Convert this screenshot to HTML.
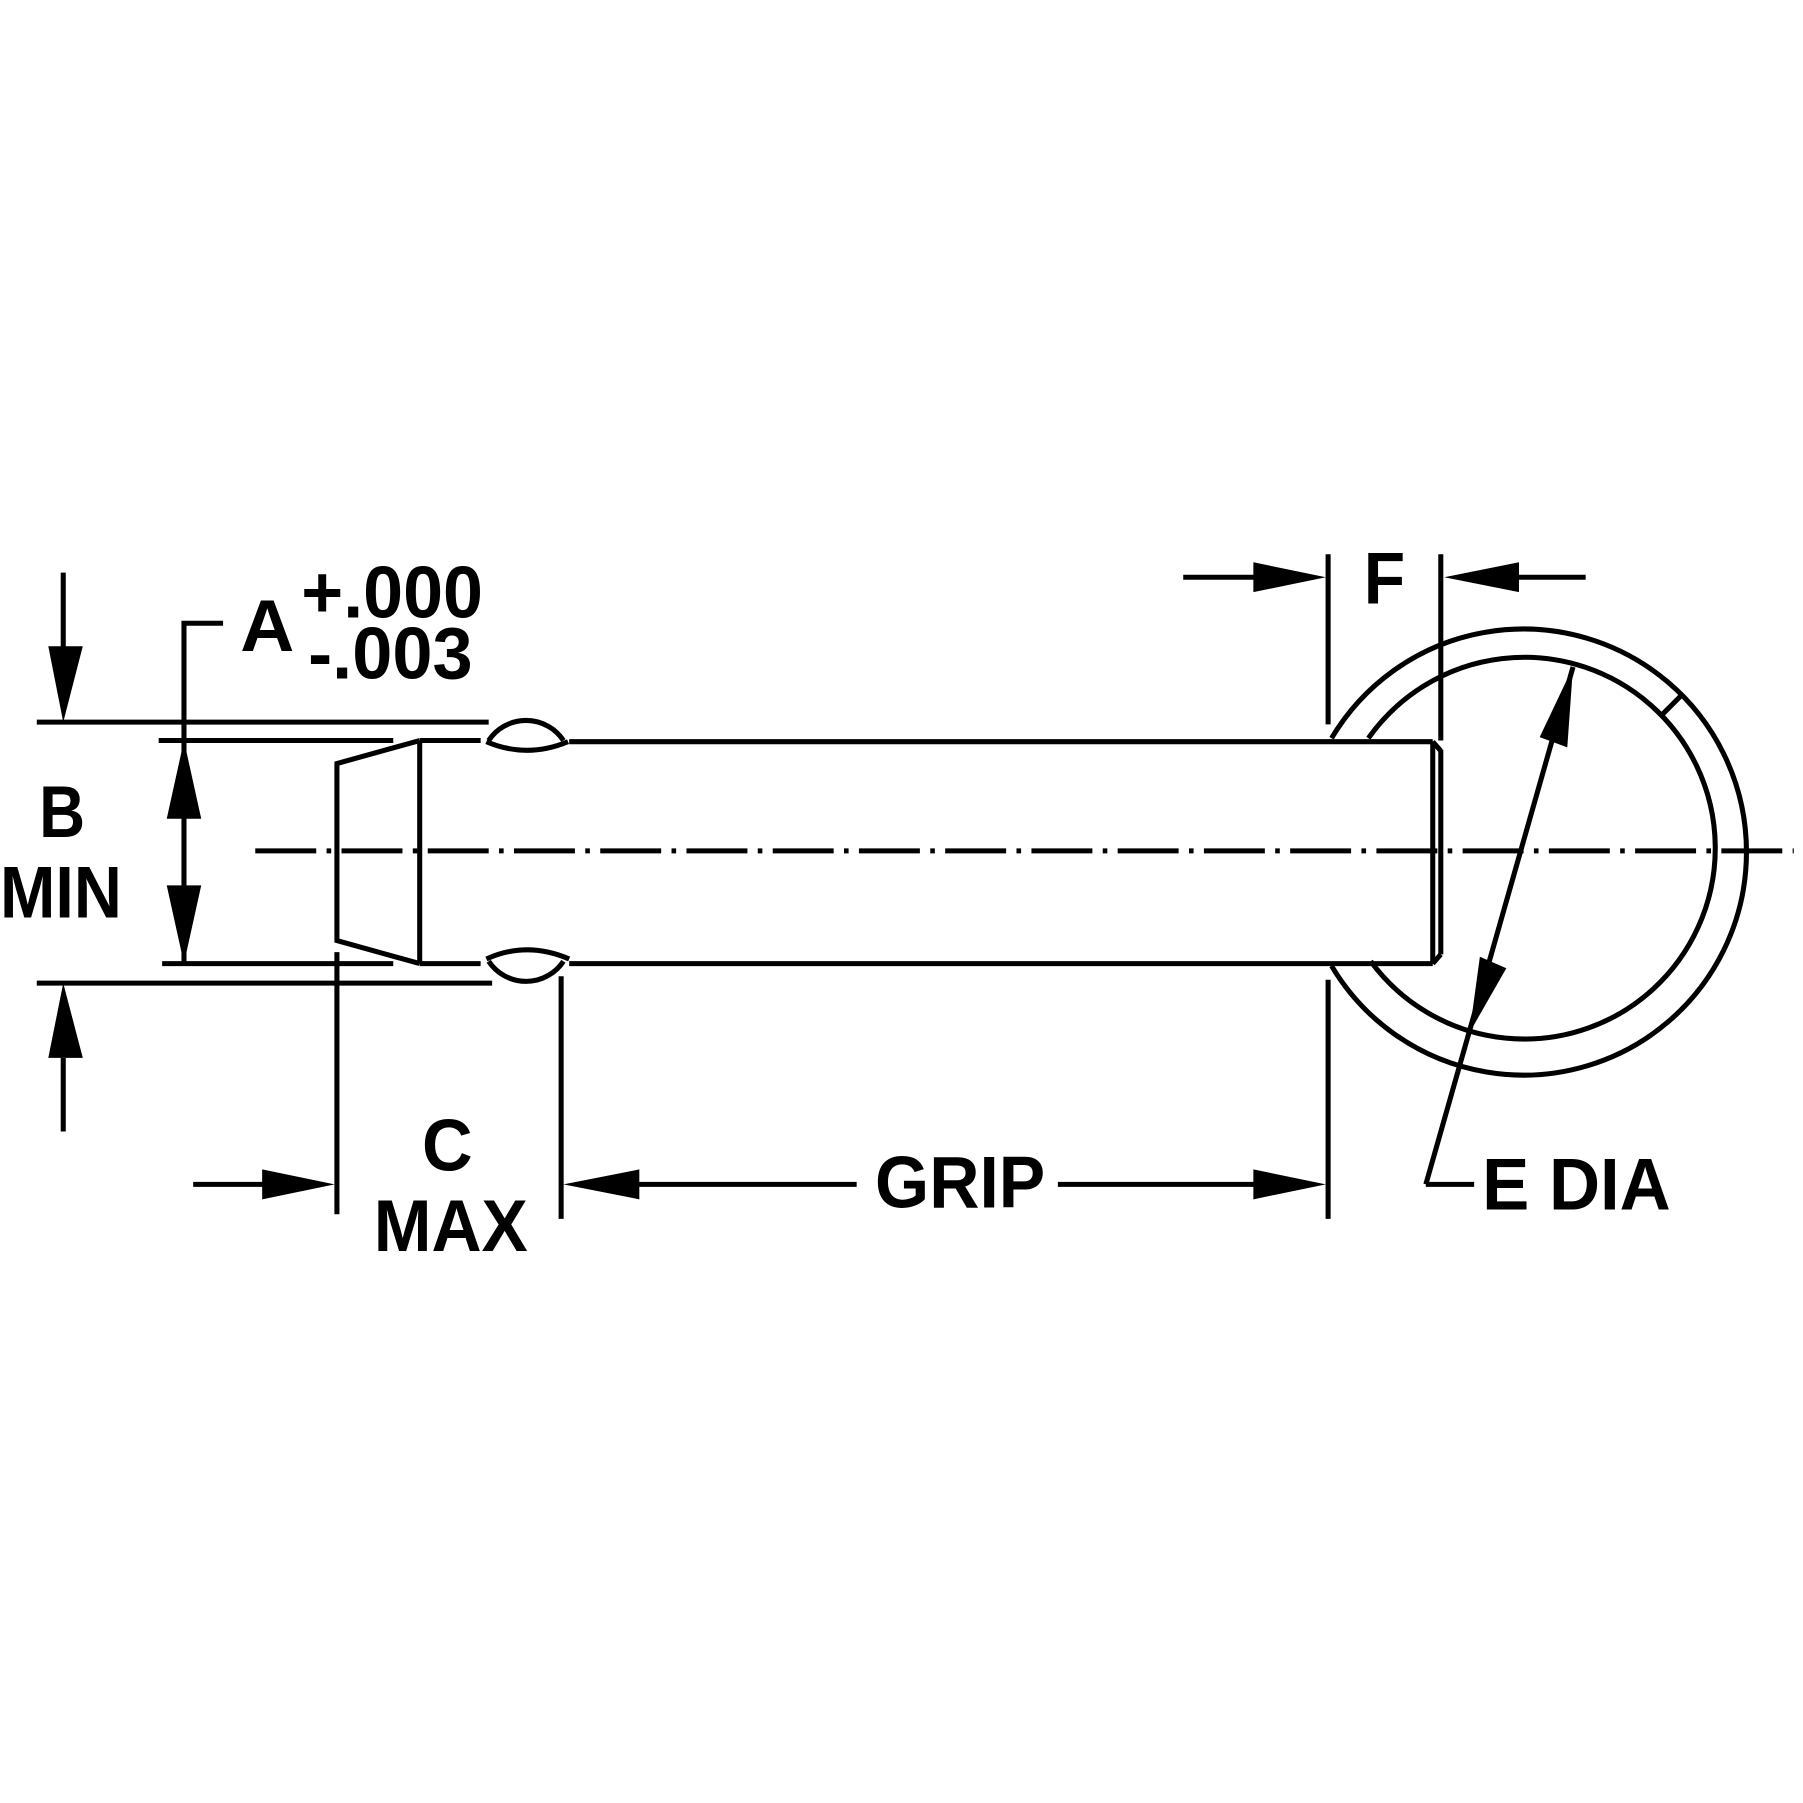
<!DOCTYPE html>
<html><head><style>html,body{margin:0;padding:0;background:#fff}svg{display:block}</style></head>
<body>
<svg width="1803" height="1803" viewBox="0 0 1568 1568" xmlns="http://www.w3.org/2000/svg">
<g stroke="#000" stroke-width="4.4" fill="none">
<line x1="55" y1="498" x2="55" y2="565"/>
<line x1="32" y1="628" x2="425" y2="628"/>
<line x1="138" y1="644" x2="342" y2="644"/>
<polyline points="194,542 160,542 160,838"/>
<line x1="141" y1="838" x2="342" y2="838"/>
<line x1="32" y1="855" x2="428" y2="855"/>
<line x1="55" y1="920" x2="55" y2="984"/>
<polyline points="365,644 293,664 293,818 365,838"/>
<line x1="365" y1="644" x2="365" y2="838"/>
<line x1="365" y1="644" x2="418" y2="644"/>
<line x1="365" y1="838" x2="418" y2="838"/>
<path d="M425,644 A39,39 0 0 1 490,644"/>
<path d="M423,645 Q458,660 494,645"/>
<path d="M423,834 Q458,818 495,834"/>
<path d="M425,836 A39,39 0 0 0 490,836"/>
<line x1="495" y1="645" x2="1246" y2="645"/>
<line x1="495" y1="838" x2="1246" y2="838"/>
<line x1="1246" y1="645" x2="1246" y2="838"/>
<line x1="1253" y1="652" x2="1253" y2="830"/>
<line x1="1246" y1="645" x2="1253" y2="653"/>
<line x1="1246" y1="838" x2="1253" y2="830"/>
<line x1="222" y1="740" x2="1560" y2="740" stroke-dasharray="53 9 4 9"/>
<line x1="293" y1="828" x2="293" y2="1056"/>
<line x1="168" y1="1030" x2="230" y2="1030"/>
<line x1="488" y1="849" x2="488" y2="1060"/>
<line x1="554" y1="1030" x2="745" y2="1030"/>
<line x1="920" y1="1030" x2="1092" y2="1030"/>
<line x1="1155" y1="852" x2="1155" y2="1060"/>
<line x1="1155" y1="482" x2="1155" y2="630"/>
<line x1="1029" y1="502" x2="1092" y2="502"/>
<line x1="1253" y1="482" x2="1253" y2="644"/>
<line x1="1319" y1="502" x2="1379" y2="502"/>
<path d="M1158,642 A194,194 0 1 1 1158,840"/>
<path d="M1190,642 A166,166 0 1 1 1192,836"/>
<line x1="1445" y1="622" x2="1463" y2="604"/>
<line x1="1240" y1="1030" x2="1368" y2="580"/>
<line x1="1240" y1="1030" x2="1282" y2="1030"/>
</g>
<g fill="#000">
<polygon points="42,562 72,562 55,628"/>
<polygon points="145,712 175,712 160,644"/>
<polygon points="145,770 175,770 160,838"/>
<polygon points="42,920 72,920 55,855"/>
<polygon points="228,1017 228,1043 291,1030"/>
<polygon points="556,1017 556,1043 490,1030"/>
<polygon points="1090,1017 1090,1043 1153,1030"/>
<polygon points="1090,489 1090,515 1153,502"/>
<polygon points="1321,489 1321,515 1256,502"/>
<polygon points="1368,580 1339,641 1363,650"/>
<polygon points="1278,898 1287,832 1310,842"/>
</g>
<g font-family="Liberation Sans, Arial, sans-serif" font-size="64" font-weight="bold" fill="#000">
<text x="209" y="566" textLength="47" lengthAdjust="spacingAndGlyphs">A</text>
<text x="262" y="537" textLength="158" lengthAdjust="spacingAndGlyphs">+.000</text>
<text x="268" y="590" textLength="143" lengthAdjust="spacingAndGlyphs">-.003</text>
<text x="34" y="728" textLength="40" lengthAdjust="spacingAndGlyphs">B</text>
<text x="0" y="798" textLength="106" lengthAdjust="spacingAndGlyphs">MIN</text>
<text x="367" y="1018" textLength="44" lengthAdjust="spacingAndGlyphs">C</text>
<text x="325" y="1088" textLength="134" lengthAdjust="spacingAndGlyphs">MAX</text>
<text x="761" y="1050" textLength="148" lengthAdjust="spacingAndGlyphs">GRIP</text>
<text x="1186" y="525" textLength="36" lengthAdjust="spacingAndGlyphs">F</text>
<text x="1289" y="1052" textLength="164" lengthAdjust="spacingAndGlyphs">E DIA</text>
</g>
</svg>
</body></html>
